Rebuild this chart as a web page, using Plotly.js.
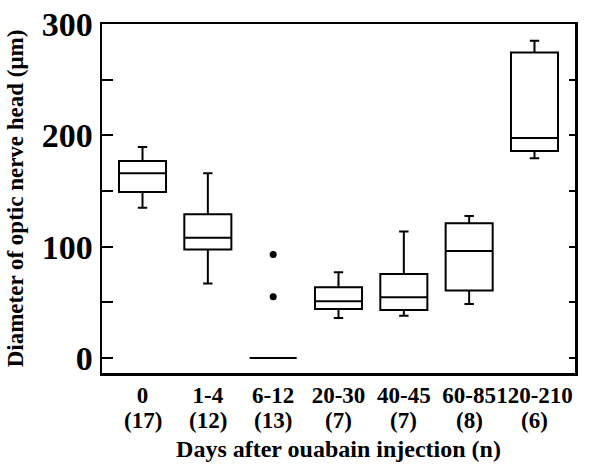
<!DOCTYPE html>
<html><head><meta charset="utf-8">
<script src="https://cdn.plot.ly/plotly-3.0.1.min.js"></script>
<style>html,body{margin:0;padding:0;background:#fff}#chart{width:600px;height:473px}</style>
</head><body><div id="chart"></div>
<script>
const categories = ['0', '1-4', '6-12', '20-30', '40-45', '60-85', '120-210'];
const sampleSizes = ['(17)', '(12)', '(13)', '(7)', '(7)', '(8)', '(6)'];
const lowerWhisker = [135, 67, 0, 36, 38, 48.5, 179.5];
const q1Values = [149, 97.5, 0, 44, 43, 60.5, 186];
const medianValues = [166, 108, 0, 51, 54.5, 96, 197.5];
const q3Values = [177, 129, 0, 63.5, 75.5, 121, 274.5];
const upperWhisker = [189.5, 166, 0, 77, 113.5, 127.5, 285];
const outlierCats = ['6-12', '6-12'];
const outlierValues = [93, 55];
const yTickVals = [0, 50, 100, 150, 200, 250, 300];
const yTickText = ['0', '', '100', '', '200', '', '300'];

const fontFam = '"Liberation Serif", "Times New Roman", serif';
const traces = [
  {
    type: 'box', x: categories, q1: q1Values, median: medianValues, q3: q3Values,
    lowerfence: lowerWhisker, upperfence: upperWhisker,
    width: 0.72, whiskerwidth: 0.2, boxpoints: false,
    line: {color: '#000', width: 2}, fillcolor: 'rgba(255,255,255,0)',
    showlegend: false, hoverinfo: 'skip'
  },
  {
    type: 'scatter', mode: 'markers', x: outlierCats, y: outlierValues,
    marker: {color: '#000', size: 7}, showlegend: false, hoverinfo: 'skip'
  },
  {
    type: 'scatter', mode: 'markers', x: [categories[0]], y: [0], yaxis: 'y2',
    marker: {opacity: 0}, showlegend: false, hoverinfo: 'skip'
  }
];
const nAnnotations = categories.map((c, i) => ({
  x: c, xref: 'x', y: -0.135, yref: 'paper', yanchor: 'middle', xanchor: 'center',
  text: sampleSizes[i], showarrow: false,
  font: {size: 23, family: fontFam, weight: 'bold', color: '#000'}
}));
const layout = {
  width: 600, height: 473,
  margin: {l: 102, r: 25, t: 24, b: 100},
  paper_bgcolor: '#fff', plot_bgcolor: '#fff',
  font: {family: fontFam, color: '#000'},
  xaxis: {
    type: 'category', categoryorder: 'array', categoryarray: categories,
    range: [-0.62, 6.62], showgrid: false, zeroline: false,
    showline: true, linecolor: '#000', linewidth: 2.5, mirror: true,
    ticks: '', tickangle: 0, tickfont: {size: 23, family: fontFam, weight: 'bold'},
    title: {text: 'Days after ouabain injection (n)', font: {size: 24, family: fontFam, weight: 'bold'}, standoff: 33}
  },
  yaxis: {
    range: [-13.5, 300], showgrid: false, zeroline: false,
    showline: true, linecolor: '#000', linewidth: 2.5, mirror: true,
    tickmode: 'array', tickvals: yTickVals, ticktext: yTickText,
    ticks: 'inside', ticklen: 11, tickwidth: 2, tickcolor: '#000',
    tickfont: {size: 34, family: fontFam, weight: 'bold'},
    title: {text: 'Diameter of optic nerve head (μm)', font: {size: 23, family: fontFam, weight: 'bold'}, standoff: 12}
  },
  yaxis2: {
    overlaying: 'y', side: 'right', range: [-13.5, 300],
    showgrid: false, zeroline: false, showline: false,
    tickmode: 'array', tickvals: yTickVals, showticklabels: false,
    ticks: 'inside', ticklen: 6, tickwidth: 2, tickcolor: '#000'
  },
  annotations: nAnnotations
};
Plotly.newPlot('chart', traces, layout, {displayModeBar: false, staticPlot: true});
</script>
</body></html>
